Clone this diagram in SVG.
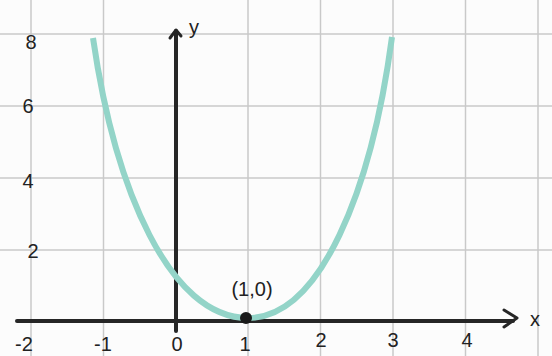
<svg xmlns="http://www.w3.org/2000/svg" width="552" height="356" viewBox="0 0 552 356">
<style>
.grid{stroke:#c9c9c9;stroke-width:1.5;fill:none}
.axis{stroke:#262626;stroke-width:4;fill:none;stroke-linecap:round;stroke-linejoin:round}
.tip{stroke:#262626;stroke-width:3;fill:none;stroke-linecap:round;stroke-linejoin:round}
.curve{stroke:#93d4c8;stroke-width:6;fill:none;stroke-linecap:butt;stroke-linejoin:round}
.lbl{font-family:"Liberation Sans","DejaVu Sans",sans-serif;font-size:20px;fill:#222;text-anchor:middle}
</style>
<rect width="552" height="356" fill="#fcfcfc"/>
<g id="grid" class="grid">
<path d="M31 0V356M103.5 0V356M248 0V356M320.5 0V356M393 0V356M465.5 0V356M538 0V356"/>
<path d="M0 34H552M0 106H552M0 178H552M0 250H552"/>
</g>
<g id="axes">
<path class="axis" d="M17 321H513"/>
<path class="tip" d="M504 310L517 318L504 327"/>
<path class="axis" d="M176 331V31"/>
<path class="tip" d="M170 38L176 30L181 36"/>
<text class="lbl" x="535" y="326" font-size="24">x</text>
<text class="lbl" x="194" y="34" font-size="24">y</text>
</g>
<g id="curve">
<path class="curve" d="M93 38C115 190 170 318 248 318C320.5 318 371.6 190 392 37"/>
</g>
<g id="vertex">
<circle cx="246" cy="318" r="6" fill="#1a1a1a"/>
<text class="lbl" x="252" y="296">(1,0)</text>
</g>
<g id="y-labels">
<text class="lbl" x="31" y="49" font-size="29">8</text>
<text class="lbl" x="28" y="113">6</text>
<text class="lbl" x="28" y="188">4</text>
<text class="lbl" x="33" y="258">2</text>
</g>
<g id="x-labels">
<text class="lbl" x="24" y="351">-2</text>
<text class="lbl" x="103" y="351">-1</text>
<text class="lbl" x="177" y="351">0</text>
<text class="lbl" x="245" y="351">1</text>
<text class="lbl" x="321" y="347">2</text>
<text class="lbl" x="393" y="347">3</text>
<text class="lbl" x="467" y="347">4</text>
</g>
</svg>
